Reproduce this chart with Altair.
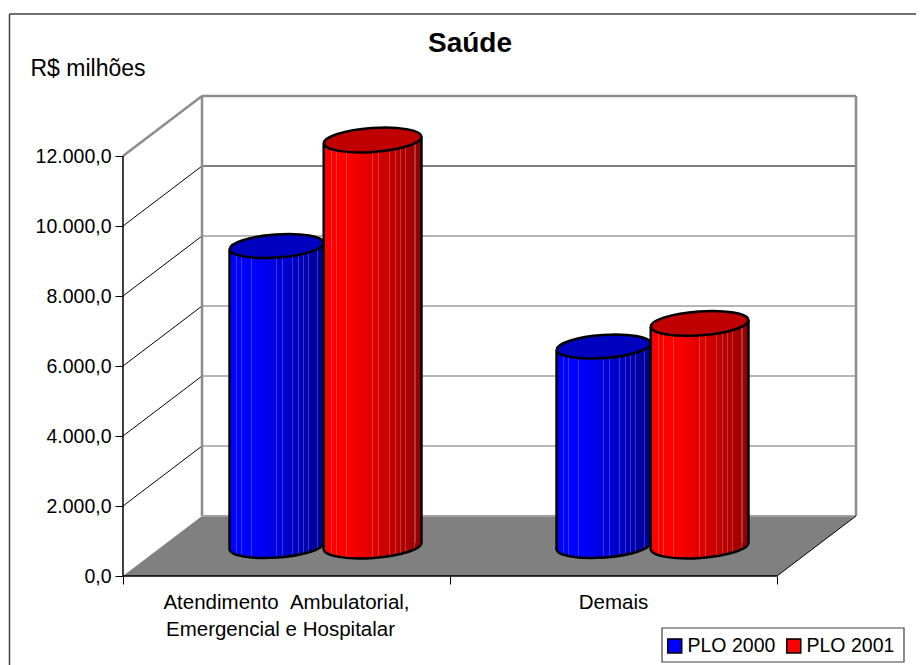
import altair as alt
import pandas as pd

# ---- values
category_first_lines = ["Atendimento\u00a0\u00a0Ambulatorial,", "Demais"]
category_second_line = ["Emergencial e Hospitalar"]
series = ["PLO 2000", "PLO 2001"]
plo_2000 = [8570, 5700]
plo_2001 = [11600, 6360]
tick_values = [0, 2000, 4000, 6000, 8000, 10000, 12000]
wall_grid = [2000, 4000, 6000, 8000, 10000]

# ---- layout of the pseudo-3D frame, in axis units
PX_PER_CAT = 327.0
PX_PER_VAL = 0.035
DEPTH_C = 79 / PX_PER_CAT      # back wall shift, in category units
DEPTH_V = 60 / PX_PER_VAL      # back wall shift, in value units
W, H = 908, 657
X_DOM = [(8 - 123) / PX_PER_CAT, (916 - 123) / PX_PER_CAT]
Y_DOM = [(576 - 665) / PX_PER_VAL, (576 - 8) / PX_PER_VAL]
x_scale = alt.Scale(domain=X_DOM, nice=False, zero=False)
y_scale = alt.Scale(domain=Y_DOM, nice=False, zero=False)
FONT = "Liberation Sans"
TXT = 19.5

label_expr = "datum.value == 0 ? '0,0' : format(datum.value / 1000, 'd') + '.000,0'"
x_axis = alt.Axis(values=[0, 1, 2], labels=False, title=None, grid=False, domain=False,
                  tickColor="black", tickSize=8, tickWidth=1, offset=-(665 - 576))
y_axis = alt.Axis(values=tick_values, labelExpr=label_expr, grid=False, domain=False,
                  tickColor="black", tickSize=8, tickWidth=1, offset=-(123 - 8),
                  labelFont=FONT, labelFontSize=TXT, labelColor="black", labelPadding=4,
                  title="R$ milhões", titleAngle=0, titleFont=FONT, titleFontSize=23,
                  titleFontWeight="normal", titleColor="black", titleAlign="left",
                  titleBaseline="alphabetic", titleX=-93, titleY=75 - 8)


def X(**kw):
    return alt.X("x:Q", scale=x_scale, axis=x_axis, **kw)


def Y(**kw):
    return alt.Y("y:Q", scale=y_scale, axis=y_axis, **kw)


def rule(x0, y0, x1, y1, color, width):
    """straight segment between two (category, value) points"""
    df = pd.DataFrame({"x": [x0, x1], "y": [y0, y1], "o": [0, 1]})
    return alt.Chart(df).mark_line(color=color, strokeWidth=width, clip=False).encode(
        x=X(), y=Y(), order="o:O")


def hexc(r, g, b):
    return "#%02x%02x%02x" % (int(r), int(g), int(b))


STRIPES = [.077, .128, .235, .497, .564, .671, .732, .782, .839, .933]


def shade(t, hue):
    k = 1.0 if t < 0.3 else 1.0 - 0.42 * (t - 0.3) / 0.7
    return tuple(c * k for c in hue)


def gradient(hue):
    stops = [alt.GradientStop(color=hexc(*shade(0, hue)), offset=0)]
    e = 0.006
    for s in STRIPES:
        base0, base1 = shade(s - e, hue), shade(s + e, hue)
        light = tuple(c + 0.22 * (255 - c) for c in shade(s, hue))
        stops += [
            alt.GradientStop(color=hexc(*base0), offset=s - e),
            alt.GradientStop(color=hexc(*light), offset=s - e),
            alt.GradientStop(color=hexc(*light), offset=s + e),
            alt.GradientStop(color=hexc(*base1), offset=s + e),
        ]
    stops.append(alt.GradientStop(color=hexc(*shade(1, hue)), offset=1))
    return alt.Gradient(gradient="linear", stops=stops, x1=0, x2=1, y1=0, y2=0)


ELLIPSE = "M-0.9976,0.0698 A1,0.245 -4 1 1 0.9976,-0.0698 A1,0.245 -4 1 1 -0.9976,0.0698 Z"
TILT = 3.5 / PX_PER_VAL


def cylinder(center, left, right, value, hue, top_color):
    x0, x1 = center + left + DEPTH_C / 2, center + right + DEPTH_C / 2
    xc = (x0 + x1) / 2
    base = DEPTH_V / 2
    top = value + DEPTH_V / 2
    grad = gradient(hue)
    size = ((x1 - x0) * PX_PER_CAT) ** 2
    foot = alt.Chart(pd.DataFrame({"x": [xc], "y": [base]})).mark_point(
        shape=ELLIPSE, size=size, filled=True, fill=grad, stroke="black",
        strokeWidth=2.5, opacity=1, clip=False).encode(x=X(), y=Y())
    body = alt.Chart(pd.DataFrame({
        "x": [x0, x1],
        "y": [top - TILT, top + TILT],
        "y2": [base - TILT, base + TILT],
    })).mark_area(fill=grad, line=False, clip=False).encode(x=X(), y=Y(), y2="y2:Q")
    edge_l = rule(x0, top - TILT, x0, base - TILT, "black", 2.5)
    edge_r = rule(x1, top + TILT, x1, base + TILT, "black", 2.5)
    cap = alt.Chart(pd.DataFrame({"x": [xc], "y": [top]})).mark_point(
        shape=ELLIPSE, size=size, filled=True, fill=top_color, stroke="black",
        strokeWidth=2.5, opacity=1, clip=False).encode(x=X(), y=Y())
    return [foot, body, edge_l, edge_r, cap]


layers = []

# legend carrier
legend_df = pd.DataFrame({"x": [0.0, 0.0], "y": [0.0, 0.0], "s": series})
layers.append(alt.Chart(legend_df).mark_square(size=0, opacity=0).encode(
    x=X(), y=Y(),
    color=alt.Color("s:N", scale=alt.Scale(domain=series, range=["#0000ff", "#ff0000"]),
                    legend=alt.Legend(
                        title=None, orient="none", legendX=651, legendY=622,
                        direction="horizontal", columns=2, columnPadding=7,
                        symbolType="square", symbolSize=196, symbolOpacity=1,
                        symbolStrokeColor="black", symbolStrokeWidth=1.5,
                        labelFont=FONT, labelFontSize=TXT, labelColor="black",
                        labelOffset=3, padding=6)),
))

# legend frame
box = pd.DataFrame({
    "x": [(662 - 123) / PX_PER_CAT], "x2": [(904 - 123) / PX_PER_CAT],
    "y": [(576 - 662) / PX_PER_VAL], "y2": [(576 - 628) / PX_PER_VAL],
})
layers.append(alt.Chart(box).mark_rect(fillOpacity=0, stroke="#404040", strokeWidth=1.2).encode(
    x=X(), x2="x2:Q", y=Y(), y2="y2:Q"))

# chart frame
layers.append(rule(X_DOM[0] + 1.5 / PX_PER_CAT, Y_DOM[1] - 6 / PX_PER_VAL, X_DOM[1],
                   Y_DOM[1] - 6 / PX_PER_VAL, "#404040", 1.5))
layers.append(rule(X_DOM[0] + 1.5 / PX_PER_CAT, Y_DOM[1] - 6 / PX_PER_VAL,
                   X_DOM[0] + 1.5 / PX_PER_CAT, Y_DOM[0], "#404040", 1.5))

# floor
floor = pd.DataFrame({"y": [0, DEPTH_V], "x": [0, DEPTH_C], "x2": [2, 2 + DEPTH_C]})
layers.append(alt.Chart(floor).mark_area(orient="horizontal", color="#808080", clip=False).encode(
    y=Y(), x=X(), x2="x2:Q"))

# walls: grid lines, then frame
for v in wall_grid:
    layers.append(rule(0, v, DEPTH_C, v + DEPTH_V, "black", 1))
    layers.append(rule(DEPTH_C, v + DEPTH_V, 2 + DEPTH_C, v + DEPTH_V,
                       "black" if v == wall_grid[-1] else "#6e6e6e", 1))
TOP = 12000
GREY = "#8c8c8c"
layers.append(rule(0, TOP, DEPTH_C, TOP + DEPTH_V, GREY, 2.5))
layers.append(rule(DEPTH_C, TOP + DEPTH_V, 2 + DEPTH_C, TOP + DEPTH_V, GREY, 2.5))
layers.append(rule(DEPTH_C, DEPTH_V, DEPTH_C, TOP + DEPTH_V, GREY, 2.5))
layers.append(rule(2 + DEPTH_C, DEPTH_V, 2 + DEPTH_C, TOP + DEPTH_V, GREY, 2.5))
layers.append(rule(DEPTH_C, DEPTH_V, 2 + DEPTH_C, DEPTH_V, "#a0a0a0", 2))

# front axis lines
layers.append(rule(0, 0, 0, TOP, "black", 1.5))
layers.append(rule(0, 0, 2, 0, "black", 1.5))
layers.append(rule(2, 0, 2 + DEPTH_C, DEPTH_V, "black", 1))

# cylinders
BLUE, RED = (0, 0, 255), (255, 0, 0)
for i in range(2):
    c = i + 0.5
    layers += cylinder(c, -0.295, -0.007, plo_2000[i], BLUE, "#0000c0")
    layers += cylinder(c, -0.007, 0.292, plo_2001[i], RED, "#c00000")

# category labels
cat_df = pd.DataFrame({"x": [0.5, 1.5], "y": [(576 - 609) / PX_PER_VAL] * 2, "t": category_first_lines})
layers.append(alt.Chart(cat_df).mark_text(
    font=FONT, fontSize=20.5, color="black",
    align="center", baseline="alphabetic", clip=False).encode(x=X(), y=Y(), text="t:N"))
cat2_df = pd.DataFrame({"x": [0.5], "y": [(576 - 636) / PX_PER_VAL], "t": category_second_line})
layers.append(alt.Chart(cat2_df).mark_text(
    font=FONT, fontSize=20.5, color="black", dx=-6,
    align="center", baseline="alphabetic", clip=False).encode(x=X(), y=Y(), text="t:N"))

chart = alt.layer(*layers).properties(
    width=W, height=H, padding=0,
    autosize=alt.AutoSizeParams(type="none"),
    title=alt.TitleParams("Saúde", font=FONT, fontSize=28, fontWeight="bold", color="black",
                          anchor="middle", dx=8, dy=50, offset=0),
).configure_view(stroke=None)

chart.save("out.html", embed_options={"renderer": "svg", "actions": False})
